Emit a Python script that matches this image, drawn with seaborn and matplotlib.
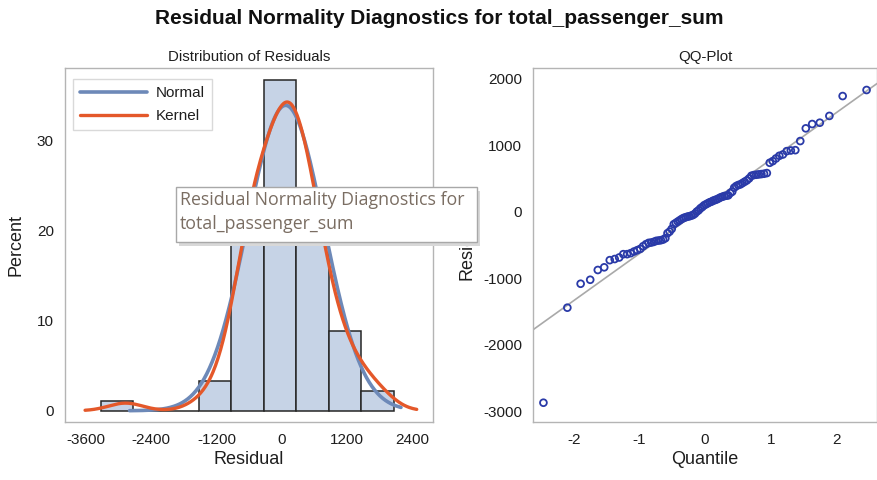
import numpy as np
import pandas as pd
import matplotlib
matplotlib.use("Agg")
import matplotlib.pyplot as plt
import matplotlib.patches as mpatches
import seaborn as sns
from statistics import NormalDist

# ---------------- data ----------------
residuals = [
    -2875, -1445, -1085, -1025, -878, -838, -730, -713, -690, -640,
    -640, -625, -600, -580, -560, -520, -490, -470, -465, -455,
    -440, -435, -430, -420, -400, -325, -300, -260, -190, -170,
    -150, -130, -110, -95, -85, -75, -70, -60, -50, -30,
    0, 20, 50, 70, 95, 110, 125, 140, 150, 165,
    175, 185, 200, 215, 225, 235, 240, 245, 280, 300,
    360, 385, 400, 410, 430, 450, 470, 500, 540, 550,
    555, 560, 565, 570, 580, 735, 760, 800, 840, 860,
    910, 920, 925, 1062, 1253, 1318, 1338, 1440, 1739, 1830,
]
bin_edges = [-3330, -2730, -2130, -1530, -930, -330, 270, 870, 1470, 2070]
hist_xticks = [-3600, -2400, -1200, 0, 1200, 2400]
hist_yticks = [0, 10, 20, 30]
qq_xticks = [-2, -1, 0, 1, 2]
qq_yticks = [-3000, -2000, -1000, 0, 1000, 2000]
kernel_bandwidth = 315

main_title = "Residual Normality Diagnostics for total_passenger_sum"
tooltip_lines = ["Residual Normality Diagnostics for", "total_passenger_sum"]

# ---------------- derived quantities ----------------
res = np.array(sorted(residuals), dtype=float)
n = len(res)
mu = res.mean()
sd = res.std(ddof=1)
bw = bin_edges[1] - bin_edges[0]
nd = NormalDist()
quantiles = np.array([nd.inv_cdf((i - 0.375) / (n + 0.25)) for i in range(1, n + 1)])

xn = np.linspace(-2800, 2200, 300)
normal_pct = 100 * bw * np.exp(-0.5 * ((xn - mu) / sd) ** 2) / (sd * np.sqrt(2 * np.pi))
xk = np.linspace(-3620, 2490, 400)
kern = np.exp(-0.5 * ((xk[:, None] - res[None, :]) / kernel_bandwidth) ** 2).sum(axis=1)
kernel_pct = 100 * bw * kern / (n * kernel_bandwidth * np.sqrt(2 * np.pi))

# ---------------- style ----------------
sns.set_theme(style="white")
plt.rcParams["font.family"] = ["Liberation Sans", "DejaVu Sans"]
plt.rcParams["axes.unicode_minus"] = False
spine_c = "#b4b4b4"
tick_c = "#8c8c8c"
text_c = "#1e1e1e"

W, H = 878, 480
fig = plt.figure(figsize=(W / 100, H / 100), dpi=100)
fx = lambda px: px / W
fy = lambda py: 1 - py / H

ax1 = fig.add_axes([fx(65), fy(422), fx(433) - fx(65), fy(68) - fy(422)])
ax2 = fig.add_axes([fx(533), fy(422), fx(877) - fx(533), fy(68) - fy(422)])

for ax in (ax1, ax2):
    for s in ax.spines.values():
        s.set_color(spine_c)
        s.set_linewidth(1.0)
    ax.tick_params(axis="both", direction="out", length=5, width=1, color=tick_c,
                   labelsize=11, labelcolor=text_c, pad=3)

# ---------------- left: histogram ----------------
sns.histplot(x=res, bins=bin_edges, stat="percent", ax=ax1, color="#c6d3e6",
             edgecolor="#262626", linewidth=1.1, alpha=1.0, zorder=1)
sns.lineplot(x=xn, y=normal_pct, ax=ax1, color="#6d89b8", linewidth=2.6,
             label="Normal", zorder=3)
sns.lineplot(x=xk, y=kernel_pct, ax=ax1, color="#e4582a", linewidth=2.4,
             label="Kernel", zorder=4)
ax1.set_xlim(-3990, 2790)
ax1.set_ylim(-1.25, 38)
ax1.set_xticks(hist_xticks)
ax1.set_yticks(hist_yticks)
ax1.set_xlabel("Residual", fontsize=13, color=text_c, labelpad=3)
ax1.set_ylabel("Percent", fontsize=13, color=text_c, labelpad=9)
ax1.set_title("Distribution of Residuals", fontsize=10.8, color=text_c, pad=5)
leg = ax1.legend(loc="upper left", fontsize=11, frameon=True, handlelength=4.4,
                 borderpad=0.45, labelspacing=0.6, handletextpad=0.6,
                 bbox_to_anchor=(0.0, 0.99), fancybox=False)
leg.get_frame().set_edgecolor("#d0d0d0")
leg.get_frame().set_linewidth(1.0)
for t in leg.get_texts():
    t.set_color(text_c)

# ---------------- right: QQ plot ----------------
ax2.axline((0, mu), slope=sd, color="#a9a9a9", linewidth=1.2, zorder=1)
sns.scatterplot(x=quantiles, y=res, ax=ax2, marker="o", s=24, fc="none",
                ec="#2a3aa8", linewidth=1.3, zorder=3)
ax2.set_xlim(-2.62, 2.62)
ax2.set_ylim(-3165, 2161)
ax2.set_xticks(qq_xticks)
ax2.set_yticks(qq_yticks)
ax2.set_xlabel("Quantile", fontsize=13, color=text_c, labelpad=3)
ax2.set_ylabel("Residual", fontsize=13, color=text_c, labelpad=5)
ax2.set_title("QQ-Plot", fontsize=10.8, color=text_c, pad=5)

# ---------------- main title ----------------
fig.text(0.5, fy(18), main_title, ha="center", va="center", fontsize=15,
         fontweight="bold", color="#111111")

# ---------------- tooltip overlay ----------------
bx0, by0, bx1, by1 = 176, 187, 477, 242
shadow = mpatches.Rectangle((fx(bx0 + 3), fy(by1 + 4)), fx(bx1 - bx0), fy(by0) - fy(by1),
                            transform=fig.transFigure, facecolor="#d8d8d8",
                            edgecolor="none", zorder=20)
box = mpatches.Rectangle((fx(bx0), fy(by1)), fx(bx1 - bx0), fy(by0) - fy(by1),
                         transform=fig.transFigure, facecolor="white",
                         edgecolor="#a8a8a8", linewidth=1.0, zorder=21)
fig.add_artist(shadow)
fig.add_artist(box)
fig.text(fx(180), fy(191), "\n".join(tooltip_lines), ha="left", va="top",
         fontsize=12.8, color="#7a6d62", family=["Open Sans", "DejaVu Sans"],
         linespacing=1.45, zorder=22)

fig.savefig("out.png", dpi=100)
